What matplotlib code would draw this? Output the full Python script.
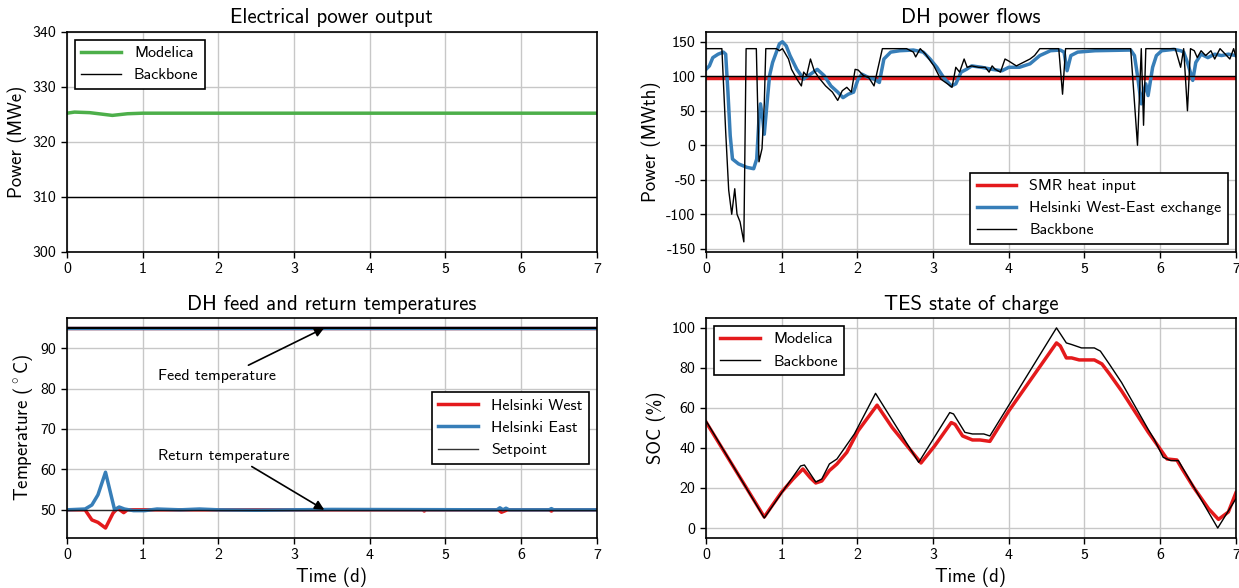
import matplotlib
matplotlib.use("Agg")
import matplotlib.pyplot as plt
import numpy as np

plt.rcParams["font.family"] = ["cmss10", "DejaVu Sans"]
plt.rcParams["axes.unicode_minus"] = False
plt.rcParams["mathtext.fontset"] = "cm"

RED = "#e41a1c"
BLUE = "#377eb8"
GREEN = "#4daf4a"

# --- Electrical power output ---
el_t = [0.0, 0.1, 0.3, 0.6, 0.8, 1.0, 5.8, 6.0, 7.0]
el_modelica = [325.2, 325.4, 325.3, 324.8, 325.1, 325.2, 325.2, 325.2, 325.2]
el_backbone_t = [0.0, 7.0]
el_backbone = [310.0, 310.0]

# --- DH power flows ---
smr_t = [0.0, 7.0]
smr_modelica = [97.5, 97.5]
smr_backbone = [100.0, 100.0]

xch_t = [0.0, 0.045, 0.09, 0.16, 0.23, 0.26, 0.29, 0.32, 0.35, 0.43, 0.54, 0.63,
         0.67, 0.70, 0.72, 0.75, 0.77, 0.80, 0.84, 0.88, 0.93, 0.97, 1.01, 1.06,
         1.11, 1.20, 1.29, 1.38, 1.47, 1.56, 1.65, 1.74, 1.81, 1.88, 1.95, 2.01,
         2.06, 2.15, 2.22, 2.29, 2.35, 2.44, 2.56, 2.74, 2.87, 2.96, 3.05, 3.14,
         3.24, 3.30, 3.37, 3.44, 3.51, 3.64, 3.78, 3.91, 4.00, 4.14, 4.28, 4.41,
         4.55, 4.68, 4.73, 4.77, 4.82, 4.91, 5.14, 5.61, 5.66, 5.70, 5.75, 5.78,
         5.81, 5.84, 5.90, 5.95, 6.02, 6.18, 6.27, 6.31, 6.36, 6.43, 6.47, 6.54,
         6.63, 6.72, 6.81, 6.90, 7.0]
xch_modelica = [110, 115, 127, 132, 135, 132, 77, 14, -20, -27, -32, -34,
                -20, 38, 60, 38, 16, 53, 101, 120, 135, 147, 150, 144,
                130, 110, 96, 103, 110, 101, 86, 77, 69, 74, 77, 96,
                103, 98, 96, 91, 125, 135, 137, 138, 135, 125, 113, 98,
                86, 89, 106, 110, 115, 113, 110, 108, 113, 113, 118, 130,
                137, 138, 135, 108, 130, 135, 137, 138, 130, 101, 60, 77,
                89, 72, 113, 130, 137, 139, 137, 135, 120, 94, 120, 132,
                127, 132, 130, 132, 130]

bb_t = [0.0, 0.21, 0.26, 0.30, 0.34, 0.38, 0.41, 0.45, 0.50, 0.53, 0.665, 0.70,
        0.74, 0.77, 0.79, 0.93, 0.97, 1.01, 1.09, 1.13, 1.20, 1.26, 1.29, 1.33,
        1.38, 1.43, 1.49, 1.58, 1.67, 1.74, 1.80, 1.86, 1.92, 1.97, 2.01, 2.08,
        2.15, 2.22, 2.26, 2.33, 2.65, 2.74, 2.77, 2.83, 2.90, 3.01, 3.10, 3.19,
        3.25, 3.30, 3.35, 3.41, 3.45, 3.51, 3.60, 3.69, 3.74, 3.78, 3.82, 3.89,
        3.95, 4.00, 4.10, 4.19, 4.28, 4.34, 4.41, 4.66, 4.71, 4.75, 5.61, 5.70,
        5.75, 5.78, 5.81, 6.20, 6.27, 6.31, 6.36, 6.40, 6.45, 6.49, 6.54, 6.60,
        6.67, 6.72, 6.79, 6.86, 6.92, 6.97, 7.0]
bb_backbone = [140, 140, 20, -65, -100, -63, -100, -111, -140, 140, 140, -24,
               -5, 60, 140, 140, 137, 140, 125, 110, 96, 86, 106, 101,
               125, 108, 98, 86, 77, 65, 79, 84, 77, 110, 109, 101,
               98, 86, 106, 140, 140, 135, 128, 140, 132, 115, 96, 89,
               84, 113, 106, 125, 113, 115, 113, 113, 106, 115, 110, 106,
               125, 122, 115, 120, 125, 130, 140, 140, 74, 140, 140, 0,
               140, 29, 140, 140, 113, 140, 50, 140, 137, 127, 137, 130,
               137, 125, 140, 132, 125, 140, 128]

# --- DH feed and return temperatures ---
feed_t = [0.0, 7.0]
feed_west = [95.0, 95.0]
feed_east = [95.0, 95.0]
feed_set = [95.0, 95.0]

ret_t_west = [0.0, 0.24, 0.33, 0.41, 0.51, 0.61, 0.67, 0.75, 0.80, 1.5, 2.5,
              4.7, 4.72, 4.74, 5.70, 5.74, 5.78, 5.82, 6.37, 6.40, 6.43, 7.0]
ret_west = [50.0, 50.0, 47.5, 46.9, 45.5, 49.2, 50.4, 49.3, 50.0, 50.0, 50.0,
            50.0, 49.7, 50.0, 50.0, 49.4, 49.7, 50.0, 50.0, 49.7, 50.0, 50.0]
ret_t_east = [0.0, 0.24, 0.33, 0.41, 0.51, 0.63, 0.69, 0.76, 0.88, 1.03, 1.19,
              1.5, 1.75, 2.0, 2.5, 3.0, 3.5, 5.68, 5.72, 5.76, 5.80, 5.84, 6.37,
              6.40, 6.43, 7.0]
ret_east = [50.0, 50.2, 51.2, 53.7, 59.3, 50.0, 50.7, 50.2, 49.8, 49.8, 50.2,
            50.0, 50.2, 50.0, 49.9, 50.0, 50.1, 50.0, 50.5, 50.0, 50.4, 50.0, 50.0,
            50.3, 50.0, 50.0]
ret_set_t = [0.0, 7.0]
ret_set = [50.0, 50.0]

# --- TES state of charge ---
soc_t_mod = [0.0, 0.77, 0.87, 1.0, 1.15, 1.28, 1.38, 1.45, 1.53, 1.63, 1.73, 1.86,
             2.01, 2.26, 2.46, 2.84, 3.02, 3.24, 3.29, 3.39, 3.52, 3.62, 3.75, 4.0,
             4.63, 4.68, 4.76, 4.83, 4.93, 5.13, 5.23, 5.33, 5.49, 5.84, 5.99, 6.09,
             6.22, 6.29, 6.44, 6.64, 6.77, 6.90, 7.0]
soc_mod = [53, 5.5, 11, 18, 24.5, 29.5, 25, 22.5, 23.5, 28.7, 32, 37.8,
           48.6, 61.4, 50.2, 32.5, 41, 52.7, 51.8, 46, 44, 44, 43.3, 58.5,
           92.5, 91, 85, 85, 84, 84, 82, 77, 68.5, 48, 40, 34.5,
           34, 29.5, 20.4, 9.6, 4.3, 8, 17.6]
soc_t_bb = [0.0, 0.77, 1.0, 1.25, 1.30, 1.45, 1.53, 1.63, 1.73, 1.96, 2.24, 2.81,
            3.22, 3.27, 3.42, 3.52, 3.67, 3.75, 4.63, 4.76, 4.83, 4.96, 5.13, 5.21,
            5.33, 5.49, 5.84, 5.92, 6.04, 6.14, 6.24, 6.76, 7.0]
soc_bb = [53.6, 5, 17.6, 31, 31.5, 23, 24.5, 32, 34.5, 47, 67.3, 32.8,
          57.7, 57, 47.8, 47, 47, 46, 100, 92.5, 91.7, 90, 90, 88.4,
          81.8, 72.7, 49.4, 44.4, 35.3, 33.7, 33.7, 0, 14.6]

xticks = np.arange(0, 8)


def style_axes(ax):
    ax.set_xlim(0, 7)
    ax.set_xticks(xticks)
    ax.grid(True, color="0.78", linewidth=1.0)
    ax.set_axisbelow(True)
    ax.tick_params(labelsize=11.5, direction="out", length=4, width=1)
    for sp in ax.spines.values():
        sp.set_linewidth(1.2)


def legend(ax, loc):
    leg = ax.legend(loc=loc, fontsize=11.5, fancybox=False, framealpha=1,
                    edgecolor="black", handlelength=2.5)
    leg.get_frame().set_linewidth(1.2)


def main():
    fig, axes = plt.subplots(2, 2, figsize=(12.39, 5.88), dpi=100)
    fig.subplots_adjust(left=0.054, right=0.9975, bottom=0.085, top=0.946,
                        wspace=0.206, hspace=0.30)
    ax1, ax2, ax3, ax4 = axes.ravel()

    # Electrical power output
    ax1.plot(el_t, el_modelica, color=GREEN, lw=2.5, label="Modelica")
    ax1.plot(el_backbone_t, el_backbone, color="black", lw=1.0, label="Backbone")
    ax1.set_ylim(300, 340)
    ax1.set_yticks([300, 310, 320, 330, 340])
    ax1.set_ylabel("Power (MWe)", fontsize=13.5)
    ax1.set_title("Electrical power output", fontsize=15)
    style_axes(ax1)
    legend(ax1, "upper left")

    # DH power flows
    ax2.plot(smr_t, smr_modelica, color=RED, lw=2.5, label="SMR heat input")
    ax2.plot(xch_t, xch_modelica, color=BLUE, lw=2.5,
             label="Helsinki West-East exchange")
    ax2.plot(bb_t, bb_backbone, color="black", lw=1.0, label="Backbone")
    ax2.plot(smr_t, smr_backbone, color="black", lw=1.0)
    ax2.set_yticks(np.arange(-150, 151, 50))
    ax2.set_ylabel("Power (MWth)", fontsize=13.5)
    ax2.set_title("DH power flows", fontsize=15)
    style_axes(ax2)
    legend(ax2, "lower right")

    # DH feed and return temperatures
    ax3.plot(feed_t, feed_west, color=RED, lw=2.5)
    ax3.plot(feed_t, feed_east, color=BLUE, lw=2.5)
    ax3.plot(feed_t, feed_set, color="black", lw=1.5)
    ax3.plot(ret_t_west, ret_west, color=RED, lw=2.5, label="Helsinki West")
    ax3.plot(ret_t_east, ret_east, color=BLUE, lw=2.5, label="Helsinki East")
    ax3.plot(ret_set_t, ret_set, color="black", lw=1.0, alpha=0.8, label="Setpoint")
    ax3.annotate("Feed temperature", xy=(3.4, 95), xytext=(1.2, 83.2),
                 fontsize=11.5, va="center", ha="left",
                 arrowprops=dict(arrowstyle="-|>", color="black", lw=1.2,
                                 mutation_scale=14, shrinkA=1, shrinkB=0,
                                 relpos=(0.71, 1.0)))
    ax3.annotate("Return temperature", xy=(3.4, 50), xytext=(1.2, 63.3),
                 fontsize=11.5, va="center", ha="left",
                 arrowprops=dict(arrowstyle="-|>", color="black", lw=1.2,
                                 mutation_scale=14, shrinkA=1, shrinkB=0,
                                 relpos=(0.67, 0.0)))
    ax3.set_yticks([50, 60, 70, 80, 90])
    ax3.set_ylabel(r"Temperature ($^\circ$C)", fontsize=13.5)
    ax3.set_xlabel("Time (d)", fontsize=13.5)
    ax3.set_title("DH feed and return temperatures", fontsize=15)
    style_axes(ax3)
    legend(ax3, "center right")

    # TES state of charge
    ax4.plot(soc_t_mod, soc_mod, color=RED, lw=2.5, label="Modelica")
    ax4.plot(soc_t_bb, soc_bb, color="black", lw=1.0, label="Backbone")
    ax4.set_yticks([0, 20, 40, 60, 80, 100])
    ax4.set_ylabel("SOC (%)", fontsize=13.5)
    ax4.set_xlabel("Time (d)", fontsize=13.5)
    ax4.set_title("TES state of charge", fontsize=15)
    style_axes(ax4)
    legend(ax4, "upper left")

    fig.savefig("out.png", dpi=100)
    plt.close(fig)


if __name__ == "__main__":
    main()
